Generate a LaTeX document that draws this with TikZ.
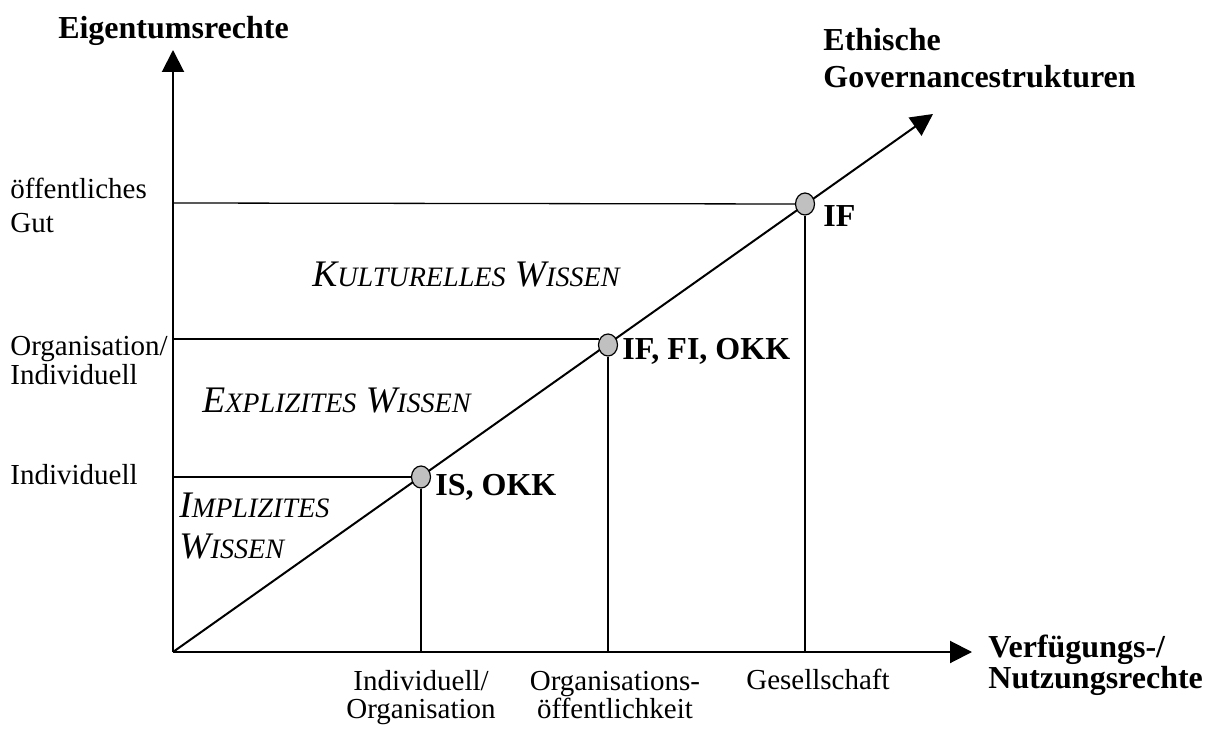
\documentclass[tikz,border=0pt]{standalone}
\usepackage{fontspec}
\setmainfont{Liberation Serif}
\usetikzlibrary{arrows.meta,shapes.geometric}
\definecolor{dotgray}{RGB}{192,192,192}
\newcommand\scx[2]{#1{\fontsize{14.06}{16}\selectfont #2}}
\begin{document}
\begin{tikzpicture}[x=0.5pt,y=-0.5pt,
  axis/.style={line width=1pt,-{Triangle[length=11pt,width=11pt]}},
  guide/.style={line width=0.65pt},
  dot/.style={ellipse,draw,line width=0.6pt,fill=dotgray,minimum width=9.5pt,minimum height=11pt,inner sep=0pt},
  lbl/.style={inner sep=0pt,font=\fontsize{14.5}{14}\selectfont},
  blbl/.style={inner sep=0pt,font=\fontsize{16}{16}\selectfont\bfseries},
  zone/.style={inner sep=0pt,font=\fontsize{18.75}{20.5}\selectfont\itshape}]
\useasboundingbox (0,0) rectangle (1214,731);
% axes
\coordinate (O) at (173,652);
\coordinate (ytip) at (173,50);
\coordinate (xtip) at (972,652);
\coordinate (dtip) at (933,114);
\draw[axis] (O) -- (ytip);
\draw[axis] (O) -- (xtip);
\draw[axis] (O) -- (dtip);
% points on the diagonal
\node[dot] (c1) at (421,477) {};
\node[dot] (c2) at (608,345) {};
\node[dot] (c3) at (805,204) {};
% guide lines
\coordinate (h1) at (173,477);
\coordinate (h2) at (173,339);
\coordinate (h3) at (173,203);
\draw[guide] (h1) -- (c1.west);
\draw[guide] (h2) -- (h2 -| c2.150);
\draw[guide] (h3) -- (c3.west);
\draw[guide] (c1.south) -- (c1.south |- O);
\draw[guide] (c2.south) -- (c2.south |- O);
\draw[guide] (c3.south) -- (c3.south |- O);
% axis titles
\node[blbl,anchor=base] (ylab) at (173.5,39) {Eigentumsrechte};
\node[inner sep=0pt,anchor=base west,font=\fontsize{16}{18.5}\selectfont\bfseries] (dlab) at (823,51)
  {\begin{tabular}[t]{@{}l@{}}Ethische\\Governancestrukturen\end{tabular}};
\node[inner sep=0pt,anchor=base west,font=\fontsize{16}{15.5}\selectfont\bfseries] (xlab) at (988,657)
  {\begin{tabular}[t]{@{}l@{}}Verfügungs-/\\Nutzungsrechte\end{tabular}};
% y-axis levels
\node[inner sep=0pt,anchor=base west,font=\fontsize{14.5}{17}\selectfont] (y3) at (10,199)
  {\begin{tabular}[t]{@{}l@{}}öffentliches\\Gut\end{tabular}};
\node[inner sep=0pt,anchor=base west,font=\fontsize{14.5}{13.5}\selectfont] (y2) at (10,356)
  {\begin{tabular}[t]{@{}l@{}}Organisation/\\Individuell\end{tabular}};
\node[lbl,anchor=base west] (y1) at (10,485) {Individuell};
% x-axis levels
\node[inner sep=0pt,anchor=base,font=\fontsize{14.5}{14}\selectfont] (x1) at (421,690)
  {\begin{tabular}[t]{@{}c@{}}Individuell/\\Organisation\end{tabular}};
\node[inner sep=0pt,anchor=base,font=\fontsize{14.5}{14}\selectfont] (x2) at (615,690)
  {\begin{tabular}[t]{@{}c@{}}Organisations-\\öffentlichkeit\end{tabular}};
\node[lbl,anchor=base] (x3) at (818,689) {Gesellschaft};
% point labels
\node[blbl,anchor=base west] (p1) at (435,495) {IS, OKK};
\node[blbl,anchor=base west] (p2) at (622,360) {IF, FI, OKK};
\node[blbl,anchor=base west] (p3) at (823,227) {IF};
% zones
\node[zone,anchor=base west] (z3) at (312,287) {\scx{K}{ULTURELLES} \scx{W}{ISSEN}};
\node[zone,anchor=base west] (z2) at (202,413) {\scx{E}{XPLIZITES} \scx{W}{ISSEN}};
\node[zone,anchor=base west] (z1) at (179,517)
  {\begin{tabular}[t]{@{}l@{}}\scx{I}{MPLIZITES}\\\scx{W}{ISSEN}\end{tabular}};
\end{tikzpicture}
\end{document}
